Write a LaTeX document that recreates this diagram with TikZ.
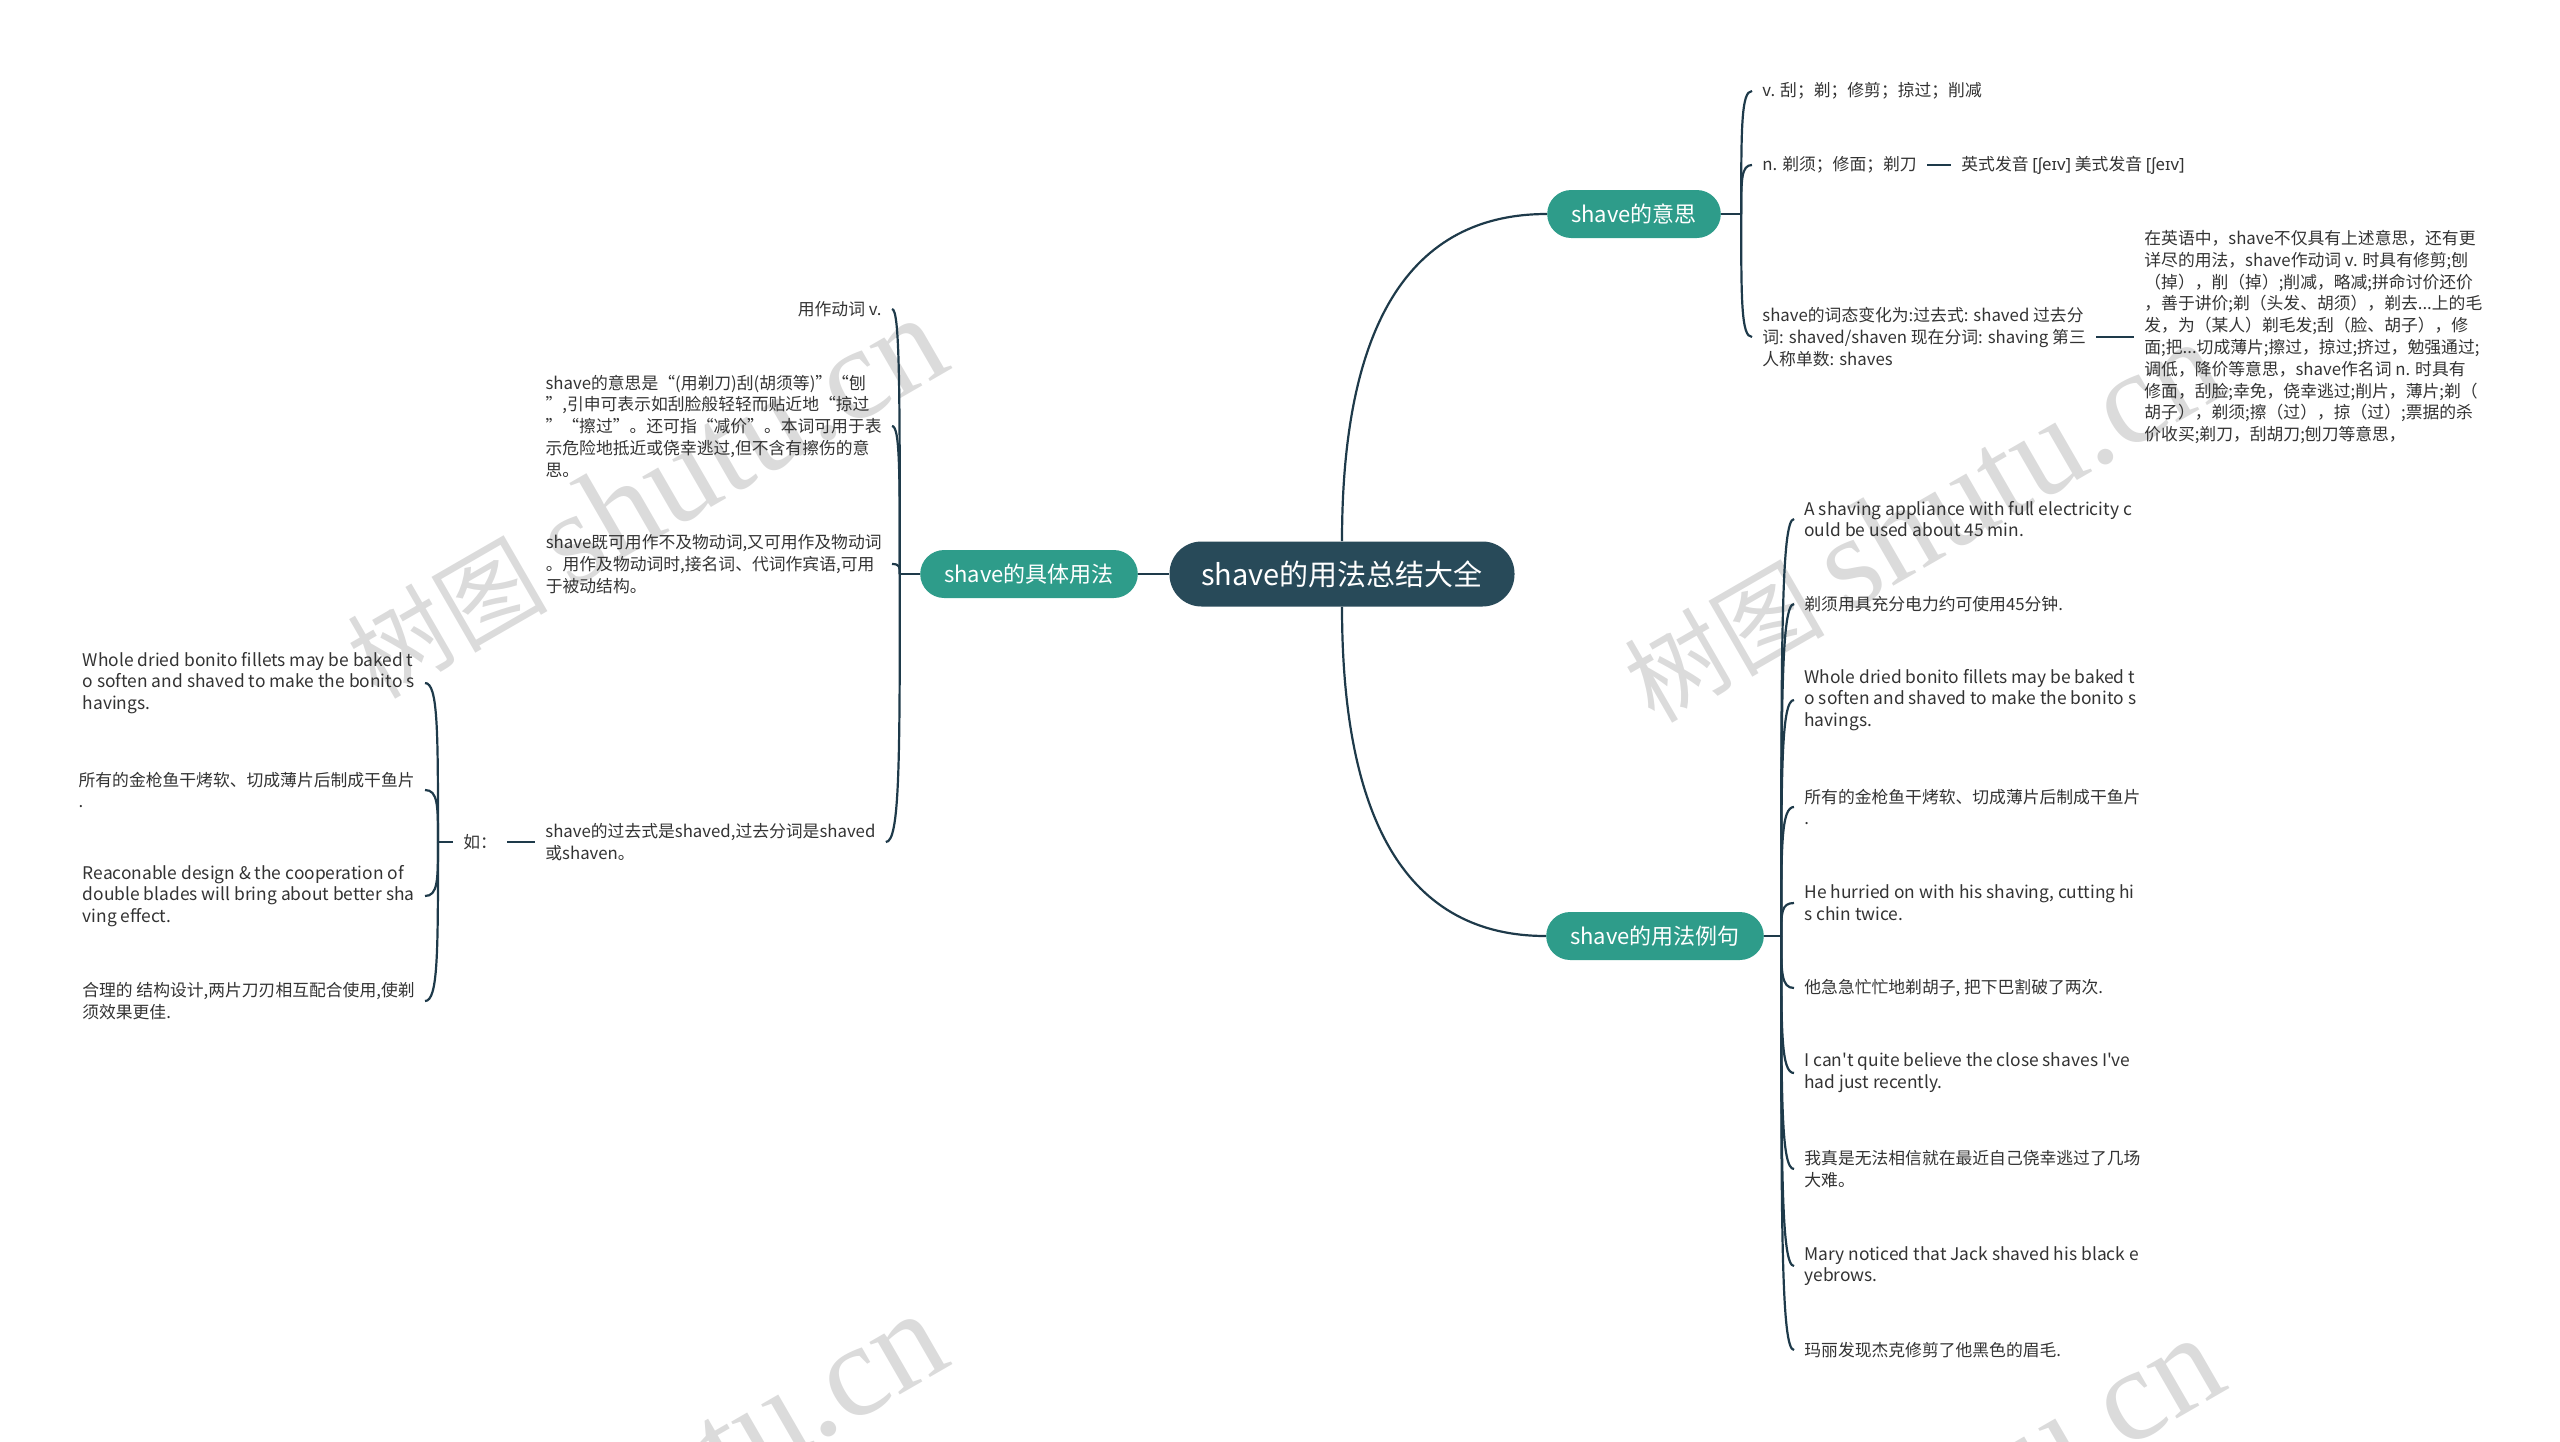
\documentclass[tikz,border=0pt]{standalone}
\usepackage{fontspec}
\setmainfont{Noto Sans CJK SC}[Ligatures=TeXOff]
\newfontfamily\ipafont{Noto Sans}
\newfontfamily\wmfont{Liberation Serif}
\usetikzlibrary{calc}

\definecolor{rootblue}{HTML}{284A59}
\definecolor{topicteal}{HTML}{2E9C8A}
\definecolor{linkblue}{HTML}{1E3A4A}
\definecolor{leafgray}{HTML}{333333}

\tikzset{
    root/.style={fill=rootblue, text=white, rounded corners=16pt,
                 minimum height=32.5pt, minimum width=172.5pt,
                 font=\fontsize{14.5}{17}\selectfont},
    topic/.style={fill=topicteal, text=white, rounded corners=12pt,
                  minimum height=24pt, inner xsep=12pt,
                  font=\fontsize{11}{13}\selectfont},
    leaf/.style={inner xsep=5pt, inner ysep=2pt, align=left, text=leafgray,
                 font=\fontsize{8.4}{10.9}\selectfont},
    enleaf/.style={leaf, font=\fontsize{8.7}{10.9}\selectfont},
    link/.style={draw=linkblue, line width=1.1pt},
    watermark/.style={text=black!14, rotate=30, font=\fontsize{50}{60}\selectfont},
}
% short stub out of a topic, ending in a named fork
\newcommand{\forkat}[3]{
    \draw[link] (#1) -- ++(#2,0) coordinate (#3);
}
% curved twig from a fork to one leaf
\newcommand{\twig}[2]{
    \draw[link] (#1) .. controls ($(#1)!0.7!(#1 |- #2)$) and (#1 |- #2) .. (#2);
}
\newcommand{\mapcanvas}{
    \path[use as bounding box] (0,0) rectangle (2560,1441);
}
\newcommand{\wmtext}{树图 {\wmfont\fontsize{66}{66}\selectfont shutu.cn}}

\begin{document}
\begin{tikzpicture}[x=0.5pt, y=-0.5pt]
    \mapcanvas

    % watermarks
    \begin{scope}
        \clip (0,0) rectangle (2560,1441);
        \node[watermark] (wm1) at (645,498) {\wmtext};
        \node[watermark] (wm2) at (1922,522) {\wmtext};
        \node[watermark] (wm3) at (645,1494) {\wmtext};
        \node[watermark] (wm4) at (1922,1518) {\wmtext};
    \end{scope}

    \node[root] (root) at (1342,574) {shave的用法总结大全};
    \node[topic] (mean) at (1634,214) {shave的意思};
    \node[topic] (sample) at (1655,936) {shave的用法例句};
    \node[topic] (usage) at (1029,574) {shave的具体用法};

    \draw[link] (root.north) .. controls +(0,-200) and +(-147,0) .. (mean.west);
    \draw[link] (root.south) .. controls +(0,200) and +(-147,0) .. (sample.west);
    \draw[link] (root.west) -- (usage.east);

    % shave的意思
    \node[leaf, anchor=west] (mean1) at (1752,91) {v. 刮；剃；修剪；掠过；削减};
    \node[leaf, anchor=west] (mean2) at (1752,165) {n. 剃须；修面；剃刀};
    \node[leaf, anchor=west] (sound) at (1951,165) {英式发音 {\ipafont[ʃeɪv]} 美式发音 {\ipafont[ʃeɪv]}};
    \node[leaf, anchor=west] (mean3) at (1752,337) {shave的词态变化为:过去式: shaved 过去分\\词: shaved/shaven 现在分词: shaving 第三\\人称单数: shaves};
    \node[leaf, anchor=west] (detail) at (2134,337) {在英语中，shave不仅具有上述意思，还有更\\详尽的用法，shave作动词 v. 时具有修剪;刨\\（掉），削（掉）;削减，略减;拼命讨价还价\\，善于讲价;剃（头发、胡须），剃去...上的毛\\发，为（某人）剃毛发;刮（脸、胡子），修\\面;把...切成薄片;擦过，掠过;挤过，勉强通过;\\调低，降价等意思，shave作名词 n. 时具有\\修面，刮脸;幸免，侥幸逃过;削片，薄片;剃（\\胡子），剃须;擦（过），掠（过）;票据的杀\\价收买;剃刀，刮胡刀;刨刀等意思，};
    \forkat{mean.east}{20}{meanfork}
    \twig{meanfork}{mean1.west}
    \twig{meanfork}{mean2.west}
    \twig{meanfork}{mean3.west}
    \draw[link] (mean2.east) -- (sound.west);
    \draw[link] (mean3.east) -- (detail.west);

    % shave的用法例句
    \node[enleaf, anchor=west] (ex1) at (1794,519) {A shaving appliance with full electricity c\\ould be used about 45 min.};
    \node[leaf, anchor=west] (ex2) at (1794,604) {剃须用具充分电力约可使用45分钟.};
    \node[enleaf, anchor=west] (ex3) at (1794,700) {Whole dried bonito fillets may be baked t\\o soften and shaved to make the bonito s\\havings.};
    \node[leaf, anchor=west] (ex4) at (1794,807) {所有的金枪鱼干烤软、切成薄片后制成干鱼片\\.};
    \node[enleaf, anchor=west] (ex5) at (1794,903) {He hurried on with his shaving, cutting hi\\s chin twice.};
    \node[leaf, anchor=west] (ex6) at (1794,988) {他急急忙忙地剃胡子, 把下巴割破了两次.};
    \node[enleaf, anchor=west] (ex7) at (1794,1073) {I can't quite believe the close shaves I've\\had just recently.};
    \node[leaf, anchor=west] (ex8) at (1794,1169) {我真是无法相信就在最近自己侥幸逃过了几场\\大难。};
    \node[enleaf, anchor=west] (ex9) at (1794,1266) {Mary noticed that Jack shaved his black e\\yebrows.};
    \node[leaf, anchor=west] (ex10) at (1794,1350) {玛丽发现杰克修剪了他黑色的眉毛.};
    \forkat{sample.east}{17}{samplefork}
    \twig{samplefork}{ex1.west}
    \twig{samplefork}{ex2.west}
    \twig{samplefork}{ex3.west}
    \twig{samplefork}{ex4.west}
    \twig{samplefork}{ex5.west}
    \twig{samplefork}{ex6.west}
    \twig{samplefork}{ex7.west}
    \twig{samplefork}{ex8.west}
    \twig{samplefork}{ex9.west}
    \twig{samplefork}{ex10.west}

    % shave的具体用法
    \node[leaf, anchor=east] (use1) at (892,309) {用作动词 v.};
    \node[leaf, anchor=east] (use2) at (892,426) {shave的意思是“(用剃刀)刮(胡须等)”“刨\\”,引申可表示如刮脸般轻轻而贴近地“掠过\\”“擦过”。还可指“减价”。本词可用于表\\示危险地抵近或侥幸逃过,但不含有擦伤的意\\思。};
    \node[leaf, anchor=east] (use3) at (892,564) {shave既可用作不及物动词,又可用作及物动词\\。用作及物动词时,接名词、代词作宾语,可用\\于被动结构。};
    \node[leaf, anchor=west] (past) at (535,842) {shave的过去式是shaved,过去分词是shaved\\或shaven。};
    \forkat{usage.west}{-20}{usagefork}
    \twig{usagefork}{use1.east}
    \twig{usagefork}{use2.east}
    \twig{usagefork}{use3.east}
    \twig{usagefork}{past.east}

    \node[leaf, anchor=west] (such) at (453,842) {如：};
    \draw[link] (such.east) -- (past.west);
    \node[enleaf, anchor=east] (such1) at (425,683) {Whole dried bonito fillets may be baked t\\o soften and shaved to make the bonito s\\havings.};
    \node[leaf, anchor=east] (such2) at (425,790) {所有的金枪鱼干烤软、切成薄片后制成干鱼片\\.};
    \node[enleaf, anchor=east] (such3) at (425,896) {Reaconable design \& the cooperation of\\double blades will bring about better sha\\ving effect.};
    \node[leaf, anchor=east] (such4) at (425,1001) {合理的 结构设计,两片刀刃相互配合使用,使剃\\须效果更佳.};
    \forkat{such.west}{-15}{suchfork}
    \twig{suchfork}{such1.east}
    \twig{suchfork}{such2.east}
    \twig{suchfork}{such3.east}
    \twig{suchfork}{such4.east}

\end{tikzpicture}
\end{document}
